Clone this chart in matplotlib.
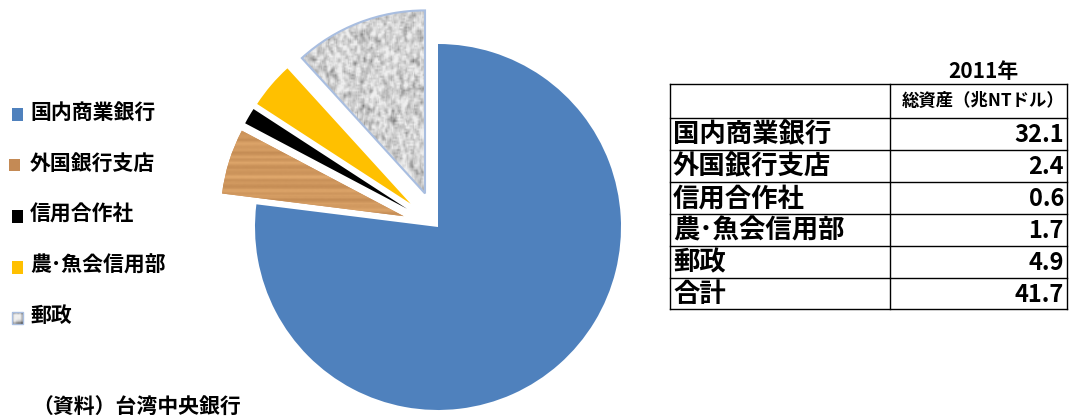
import numpy as np
import matplotlib
matplotlib.use("Agg")
import matplotlib.pyplot as plt
from matplotlib.patches import Rectangle

plt.rcParams['font.family'] = ['Noto Sans CJK JP', 'DejaVu Sans']

# 2011年 台湾の金融機関別総資産（兆NTドル）
categories = ['国内商業銀行', '外国銀行支店', '信用合作社', '農･魚会信用部', '郵政']
assets = [32.1, 2.4, 0.6, 1.7, 4.9]
total_label = '合計'
total_value = 41.7
colors = ['#4F81BD', '#C48A55', '#000000', '#FFC000', '#B0B0B0']

W, H = 1070, 418
R = 183
explode = [0, 36, 36, 36, 36]


def Y(y):
    # pixel rows counted from the top
    return H - y


def smooth(a, n=2):
    k = np.ones(3) / 3
    for _ in range(n):
        a = np.apply_along_axis(lambda r: np.convolve(r, k, mode='same'), 0, a)
        a = np.apply_along_axis(lambda r: np.convolve(r, k, mode='same'), 1, a)
    return a


def granite(n, rng):
    a = smooth(rng.random((n, n)), 1)
    a = (a - a.min()) / (a.max() - a.min())
    g = np.clip(0.3 + 0.75 * a ** 0.6, 0, 0.94)
    return np.dstack([g, g, g])


def wood(n, rng):
    rows = np.arange(n)
    grain = (0.6 + 0.08 * np.sin(rows / 2.6) + 0.06 * np.sin(rows / 6.1 + 1.0)
             + 0.15 * rng.random(n))
    grain = np.convolve(grain, np.ones(3) / 3, mode='same')
    g = grain[:, None] + 0.05 * smooth(rng.random((n, n)), 1)
    g = np.clip(g, 0, 1)
    dark = np.array([0.58, 0.36, 0.17])
    light = np.array([0.92, 0.70, 0.46])
    return dark + (light - dark) * g[:, :, None]


fig = plt.figure(figsize=(W / 100, H / 100), dpi=100)
ax = fig.add_axes([0, 0, 1, 1])

wedges, _ = ax.pie(assets, colors=colors, explode=explode, startangle=90,
                   counterclock=False, center=(438, Y(227)), radius=R,
                   wedgeprops=dict(linewidth=0), frame=True)

rng = np.random.default_rng(3)
# textured fills for 外国銀行支店 and 郵政
for w, tex in [(wedges[1], wood(220, rng)), (wedges[4], granite(110, rng))]:
    bb = w.get_path().get_extents(w.get_transform() + ax.transData.inverted())
    im = ax.imshow(tex, extent=(bb.x0 - 2, bb.x1 + 2, bb.y0 - 2, bb.y1 + 2),
                   interpolation='bilinear', zorder=w.get_zorder() + 0.1)
    im.set_clip_path(w)
wedges[4].set_edgecolor('#A9BEE0')
wedges[4].set_linewidth(1.5)
wedges[4].set_zorder(wedges[4].get_zorder() + 0.2)
wedges[4].set_facecolor('none')

# legend
leg_gray = granite(6, rng)
for i, (lab, col) in enumerate(zip(categories, colors)):
    yc = 114 + i * 51
    x0 = 9 if i == 1 else 12
    if i == 1:
        ax.add_patch(Rectangle((x0, Y(yc + 6)), 11, 12, color=col, lw=0, zorder=5))
    elif i == 4:
        ax.imshow(leg_gray, extent=(x0, x0 + 11, Y(yc + 6), Y(yc - 6)),
                  interpolation='bilinear', zorder=5)
        ax.add_patch(Rectangle((x0, Y(yc + 6)), 11, 12, fill=False,
                               edgecolor='#A9BEE0', lw=1, zorder=6))
    else:
        ax.add_patch(Rectangle((x0, Y(yc + 7)), 11, 13, color=col, lw=0, zorder=5))
    ax.text(30, Y(yc - 2), lab, fontsize=15, fontweight='bold', va='center',
            ha='left', color='black')

# table
col_x = [670, 890, 1067]
row_y = [84, 118, 150, 182, 214, 246, 278, 309]
for yy in row_y:
    ax.plot([col_x[0], col_x[2]], [Y(yy), Y(yy)], color='black', lw=1)
for xx in col_x:
    ax.plot([xx, xx], [Y(row_y[0]), Y(row_y[-1])], color='black', lw=1)

ax.text(983, Y(71), '2011年', fontsize=15, fontweight='bold', ha='center',
        va='center')
ax.text(1065, Y(101), '総資産（兆NTドル）', fontsize=12.5, fontweight='bold',
        ha='right', va='center')
rows = list(zip(categories, assets)) + [(total_label, total_value)]
for j, (lab, val) in enumerate(rows):
    yc = (row_y[j + 1] + row_y[j + 2]) / 2
    ax.text(673, Y(yc + 1), lab, fontsize=19, fontweight='bold', ha='left',
            va='center')
    ax.text(1064, Y(yc + 1), f'{val:.1f}', fontsize=17, fontweight='bold',
            ha='right', va='center')

ax.text(32, Y(407), '（資料）台湾中央銀行', fontsize=15, fontweight='bold',
        ha='left', va='center')

ax.set_xlim(0, W)
ax.set_ylim(0, H)
ax.set_aspect('equal')
ax.axis('off')

fig.savefig('out.png', dpi=100)
